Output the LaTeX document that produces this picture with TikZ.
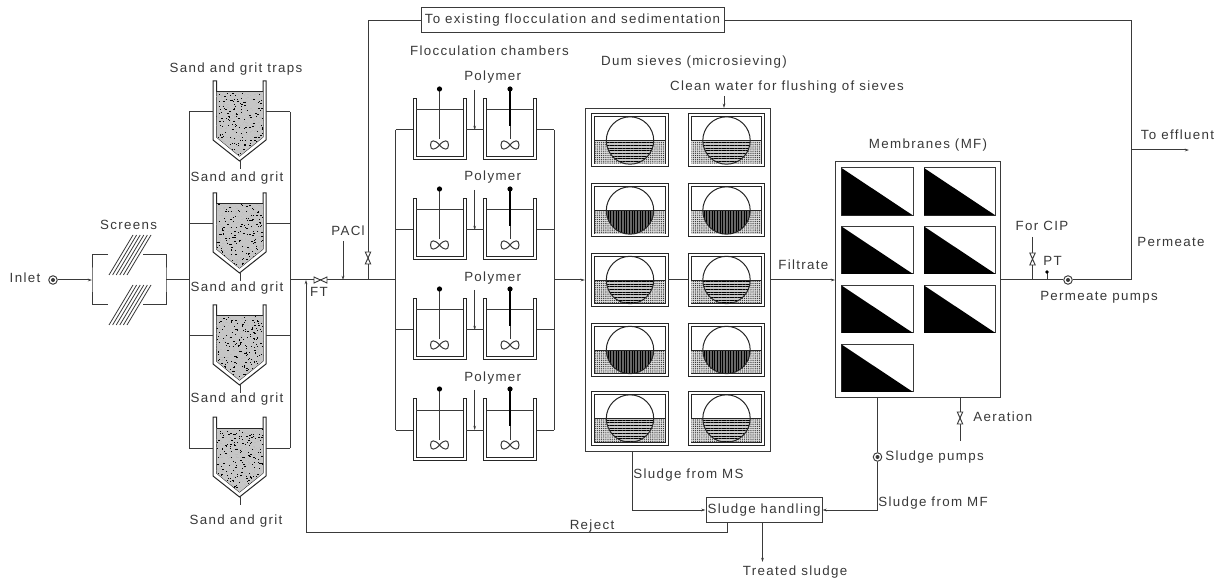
\documentclass[tikz,border=0pt]{standalone}
\usepackage{fontspec}
\setmainfont[LetterSpace=10]{Liberation Sans}
\usetikzlibrary{arrows.meta,patterns.meta}
\definecolor{ln}{HTML}{3A3A3A}
\tikzset{
  pipe/.style={draw=ln,line width=0.75pt},
  flow/.style={pipe,-{Stealth[length=3.2pt,width=2pt]}},
  lbl/.style={inner sep=0pt,text=black!78,font=\fontsize{10pt}{12pt}\selectfont},
  boxnode/.style={draw=ln,line width=0.75pt,fill=white,inner sep=0pt},
  pumpnode/.style={circle,draw=ln,line width=0.7pt,minimum size=6.4pt,inner sep=0pt,fill=white,path picture={\fill[ln] (path picture bounding box.center) circle (1.5pt);}},
  valve/.style={draw=ln,line width=0.7pt,fill=white},
  wall/.style={draw=black!85,line width=0.75pt},
}
\newcommand{\sandtrap}[2]{%
  \begin{scope}[shift={(#1,#2)}]
    \draw[wall] (0,0) -- (0,59) -- (26.5,80) -- (53,59) -- (53,0) -- (50,0) -- (50,56) -- (26.5,75) -- (3.5,56) -- (3.5,0) -- cycle;
    \begin{scope}
      \clip (3.5,11) -- (3.5,56) -- (26.5,75) -- (50,56) -- (50,11) -- cycle;
      \fill[gray!45] (0,0) rectangle (53,80);
      \foreach \k in {1,...,420}{
        \pgfmathsetmacro{\xa}{3+47*rnd}\pgfmathsetmacro{\ya}{11+64*rnd}
        \pgfmathsetmacro{\cc}{rnd>0.42?25:100}
        \fill[black!\cc!white] (\xa,\ya) rectangle ++(1.3,0.9);
      }
    \end{scope}
    \draw[wall] (3.5,11) -- (50,11);
  \end{scope}}
\newcommand{\mixer}[2]{%
  \begin{scope}[shift={(#1,#2)}]
    \draw[wall] (0,0) -- (0,61.5) -- (53,61.5) -- (53,0) -- (50,0) -- (50,58.5) -- (3,58.5) -- (3,0) -- cycle;
    \draw[pipe] (3,11.5) -- (50,11.5);
    \draw[pipe] (26.5,-9.5) -- (26.5,41);
    \fill[black] (26.5,-9.5) circle (2.6);
    \draw[pipe] (26.5,46.5) .. controls (22,41) and (17.5,41) .. (17.5,46.5) .. controls (17.5,52) and (22,52) .. (26.5,46.5) .. controls (31,41) and (35.5,41) .. (35.5,46.5) .. controls (35.5,52) and (31,52) .. (26.5,46.5);
  \end{scope}}
\newcommand{\sieve}[4]{%
  \begin{scope}[shift={(#1,#2)}]
    \draw[wall,fill=white] (0,0) rectangle (76.5,53);
    \draw[wall] (3,3) rectangle (73.5,50);
    \fill[gray!25] (3.4,26.7) rectangle (73.1,49.6);
    \fill[pattern={Dots[distance=1.6pt,radius=0.5pt]},pattern color=black!80] (3.4,26.7) rectangle (73.1,49.6);
    \begin{scope}
      \clip (3,26.7) rectangle (73.5,50);
      \fill[#3] (38.5,26.5) circle (23.7);
      \fill[pattern={Lines[angle=#4,distance=2pt,line width=0.5pt]},pattern color=black] (38.5,26.5) circle (23.7);
    \end{scope}
    \draw[wall] (3,26.7) -- (73.5,26.7);
    \draw[wall] (38.5,26.5) circle (23.7);
  \end{scope}}
\newcommand{\panel}[2]{%
  \begin{scope}[shift={(#1,#2)}]
    \draw[draw=ln,line width=0.75pt,fill=white] (0,0) rectangle (71.5,47.5);
    \fill[black] (0,0) -- (0,47.5) -- (71.5,47.5) -- cycle;
  \end{scope}}
\newcommand{\vvalve}[2]{\draw[valve] (#1-2.7,#2-6) -- (#1+2.7,#2-6) -- (#1-2.7,#2+6) -- (#1+2.7,#2+6) -- cycle;}
\begin{document}
\begin{tikzpicture}[x=0.75pt,y=-0.75pt]
\useasboundingbox (0,0) rectangle (1223,580);
\pgfmathsetseed{42}
\coordinate (scrL) at (92,280);
\coordinate (scrR) at (166,280);
\coordinate (busL) at (189,280);
\coordinate (busR) at (290,280);
\coordinate (rej) at (306,280);
\coordinate (paclJ) at (343,280);
\coordinate (bypJ) at (368,280);
\coordinate (flL) at (395.5,280);
\coordinate (flR) at (554,280);
\coordinate (perm) at (1131,280);
\coordinate (cipJ) at (1032.5,280);
\coordinate (ptJ) at (1047,280);
\node[boxnode,minimum width=227.25pt,minimum height=18.75pt,lbl] (top) at (572.5,20.5) {To existing flocculation and sedimentation};
\node[boxnode,minimum width=139pt,minimum height=257pt] (msbox) at (678,279.75) {};
\node[boxnode,minimum width=124pt,minimum height=177pt] (mfbox) at (918.25,280) {};
\node[boxnode,minimum width=87pt,minimum height=18.4pt,lbl] (sh) at (764,510) {Sludge handling};
\node[pumpnode] (inpump) at (53,280) {};
\draw[flow] (inpump) -- (scrL);
\draw[pipe] (108,255) -| (scrL) |- (108,305);
\draw[pipe] (143,255) -| (scrR) |- (143,305);
\foreach \d in {0,3.6,7.2,10.8,14.4,18}{
  \draw[pipe,line width=0.6pt] (109+\d,275) -- (133+\d,235);
  \draw[pipe,line width=0.6pt] (109+\d,325) -- (133+\d,285);
}
\draw[pipe] (scrR) -- (busL);
\foreach \y in {81,193,305,417}{
  \sandtrap{213}{\y}
  \draw[pipe] (240,\y+80) -- (240,\y+88);
  \draw[pipe] (189,\y+31) -- (213,\y+31);
  \draw[pipe] (266,\y+31) -- (290,\y+31);
}
\draw[pipe] (189,112) -- (189,448);
\draw[pipe] (290,112) -- (290,448);
\draw[pipe] (busR) -- (flL);
\draw[valve] (314,277) -- (314,283) -- (327,277) -- (327,283) -- cycle;
\coordinate (paclT) at (343,241);
\draw[flow] (paclT) -- (paclJ);
\draw[pipe] (bypJ) |- (top.west);
\vvalve{368}{258}
\foreach \y [count=\i] in {0,100,200,300}{
  \mixer{413}{98.5+\y}
  \mixer{483.5}{98.5+\y}
  \draw[pipe] (395.5,130+\y) -- (413,130+\y);
  \draw[pipe] (466,130+\y) -- (483.5,130+\y);
  \draw[pipe] (536.5,130+\y) -- (554,130+\y);
  \draw[flow] (474.7,90+\y) -- (474.7,130+\y);
  \draw[draw=black,line width=1.1pt] (510,89+\y) -- (510,126+\y);
}
\draw[pipe] (395.5,130) -- (395.5,430);
\draw[pipe] (554,130) -- (554,430);
\draw[flow] (flR) -- (msbox.west |- flR);
\sieve{591.5}{114}{gray!45}{0}
\sieve{688}{114}{gray!45}{0}
\sieve{591.5}{184}{black!60}{90}
\sieve{688}{184}{black!60}{90}
\sieve{591.5}{253.5}{gray!45}{0}
\sieve{688}{253.5}{gray!45}{0}
\sieve{591.5}{323.5}{black!60}{90}
\sieve{688}{323.5}{black!60}{90}
\sieve{591.5}{392}{gray!45}{0}
\sieve{688}{392}{gray!45}{0}
\draw[pipe] (668,280) -- (688,280);
\coordinate (cleanT) at (724,96);
\draw[flow] (cleanT) -- (cleanT |- msbox.north);
\draw[flow] (632,451) |- (sh.west);
\draw[flow] (762.5,522) -- (762.5,562);
\draw[flow] (727,522) |- (rej |- 0,532.5) -- (rej);
\node[pumpnode] (spump) at (877.5,457) {};
\draw[pipe] (877.5,398.5) -- (spump);
\draw[flow] (spump) |- (sh.east);
\draw[flow] (msbox.east |- flR) -- (mfbox.west |- flR);
\panel{841.5}{168}\panel{924}{168}
\panel{841.5}{226.5}\panel{924}{226.5}
\panel{841.5}{285.5}\panel{924}{285.5}
\panel{841.5}{344.5}
\coordinate (aerB) at (960,441);
\draw[pipe] (aerB) -- (aerB |- mfbox.south);
\vvalve{960}{418}
\node[pumpnode] (ppump) at (1068,280) {};
\draw[pipe] (mfbox.east |- perm) -- (ppump) -- (perm);
\coordinate (cipT) at (1032.5,237);
\draw[pipe] (cipT) -- (cipJ);
\vvalve{1032.5}{259}
\coordinate (ptT) at (1047,272);
\draw[pipe] (ptT) -- (ptJ);
\fill[black] (ptT) circle (1.8);
\coordinate (eff) at (1189,150);
\draw[pipe] (top.east) -| (perm);
\draw[flow] (1131,150) -- (eff);
\node[lbl] (t1) at (25,278) {Inlet};
\node[lbl] (t2) at (128.5,225) {Screens};
\node[lbl] (t3) at (236,69) {Sand and grit traps};
\node[lbl] (t4) at (237,178) {Sand and grit};
\node[lbl] (t5) at (237,288) {Sand and grit};
\node[lbl] (t6) at (237,399) {Sand and grit};
\node[lbl] (t7) at (236,521) {Sand and grit};
\node[lbl] (t8) at (319,292) {FT};
\node[lbl] (t9) at (348,231) {PACl};
\node[lbl] (t10) at (489.5,51) {Flocculation chambers};
\foreach \y [count=\i] in {77,177.5,278,378}{
  \node[lbl] (poly\i) at (492.7,\y) {Polymer};
}
\node[lbl] (t11) at (694,62) {Dum sieves (microsieving)};
\node[lbl] (t12) at (787,87) {Clean water for flushing of sieves};
\node[lbl,anchor=west] (t13) at (778,265) {Filtrate};
\node[lbl] (t14) at (928,145) {Membranes (MF)};
\node[lbl] (t15) at (1042,226) {For CIP};
\node[lbl,anchor=west] (t16) at (1043,261) {PT};
\node[lbl] (t17) at (1099,297) {Permeate pumps};
\node[lbl] (t18) at (1171,242) {Permeate};
\node[lbl] (t19) at (1177.5,135) {To effluent};
\node[lbl,anchor=west] (t20) at (973,417) {Aeration};
\node[lbl,anchor=west] (t21) at (885,457) {Sludge pumps};
\node[lbl,anchor=west] (t22) at (878,503) {Sludge from MF};
\node[lbl,anchor=west] (t23) at (633,475) {Sludge from MS};
\node[lbl] (t24) at (592,526) {Reject};
\node[lbl] (t25) at (795,572) {Treated sludge};
\end{tikzpicture}
\end{document}
